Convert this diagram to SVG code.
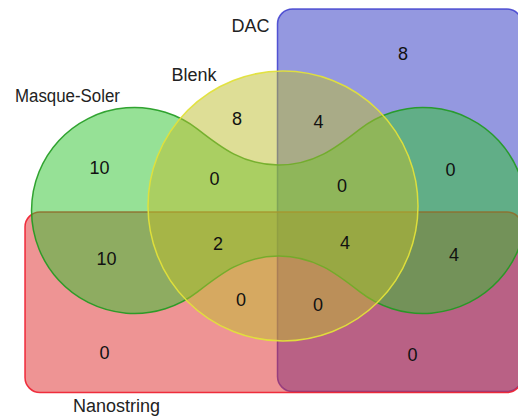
<svg xmlns="http://www.w3.org/2000/svg" width="518" height="416" viewBox="0 0 518 416">
<style>
.lbl{font-family:"Liberation Sans",Arial,sans-serif;font-size:18px;fill:#222}
.num{font-family:"Liberation Sans",Arial,sans-serif;font-size:18px;fill:#111;text-anchor:middle}
.dac{fill:#2931c1;fill-opacity:.5;stroke:#3333cc;stroke-opacity:.8;stroke-width:1.5}
.nano{fill:#dd2929;fill-opacity:.5;stroke:#ee1c2c;stroke-opacity:.9;stroke-width:1.5}
.ms{fill:#2dc32d;fill-opacity:.5;stroke:#1f9a1f;stroke-opacity:.9;stroke-width:1.5}
.blenk{fill:#bdbd2d;fill-opacity:.5;stroke:#e2e23a;stroke-opacity:.95;stroke-width:1.5}
</style>
<rect width="518" height="416" fill="#fff"/>
<g id="DAC">
<rect class="dac" x="277.5" y="9" width="244.5" height="382.5" rx="15" ry="15"/>
<text class="lbl" x="231.5" y="31.5">DAC</text>
</g>
<g id="Nanostring">
<rect class="nano" x="25" y="212" width="497" height="180.5" rx="15" ry="15"/>
<text class="lbl" x="73" y="412">Nanostring</text>
</g>
<g id="Masque-Soler">
<path class="ms" d="M 197.9 129.3 C 221.5 147.8 243.75 165 278.75 165 C 313.75 165 336 147.8 359.6 129.3 A 103 103 0 1 1 359.6 291.7 C 336 273.2 313.75 256 278.75 256 C 243.75 256 221.5 273.2 197.9 291.7 A 103 103 0 1 1 197.9 129.3 Z"/>
<text class="lbl" x="15" y="101.5" textLength="105" lengthAdjust="spacingAndGlyphs">Masque-Soler</text>
</g>
<g id="Blenk">
<circle class="blenk" cx="283" cy="206" r="135"/>
<text class="lbl" x="171.5" y="81">Blenk</text>
</g>
<g id="counts">
<text class="num" x="403" y="60">8</text>
<text class="num" x="237" y="125">8</text>
<text class="num" x="318.5" y="128">4</text>
<text class="num" x="99.5" y="174">10</text>
<text class="num" x="214.5" y="185">0</text>
<text class="num" x="342" y="191.5">0</text>
<text class="num" x="450.5" y="175.5">0</text>
<text class="num" x="106.5" y="265">10</text>
<text class="num" x="218" y="250">2</text>
<text class="num" x="241" y="306">0</text>
<text class="num" x="104.5" y="359">0</text>
<text class="num" x="345" y="249">4</text>
<text class="num" x="454" y="261">4</text>
<text class="num" x="318" y="311">0</text>
<text class="num" x="412.5" y="360.5">0</text>
</g>
</svg>
